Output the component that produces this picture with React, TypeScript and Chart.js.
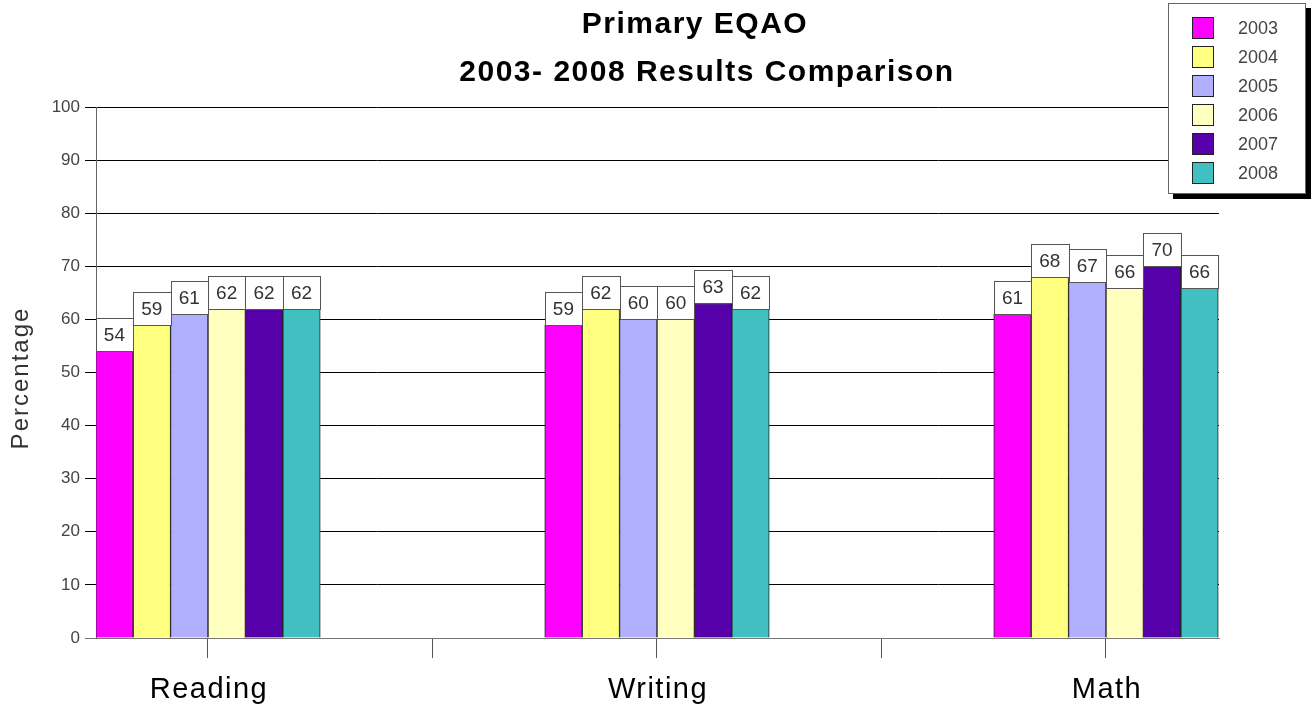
import React, { useEffect, useRef } from "react";
import { Chart, registerables } from "chart.js";

Chart.register(...registerables);

const categories = ["Reading", "Writing", "Math"];
const years = ["2003", "2004", "2005", "2006", "2007", "2008"];
const values2003 = [54, 59, 61];
const values2004 = [59, 62, 68];
const values2005 = [61, 60, 67];
const values2006 = [62, 60, 66];
const values2007 = [62, 63, 70];
const values2008 = [62, 62, 66];
const seriesValues = [values2003, values2004, values2005, values2006, values2007, values2008];
const colors = ["#FF00FF", "#FFFF80", "#B0B0FF", "#FFFFC0", "#5500A8", "#40C0C0"];
const yTicks = [0, 10, 20, 30, 40, 50, 60, 70, 80, 90, 100];
const titleLines = ["Primary EQAO", "2003- 2008 Results Comparison"];
const yTitle = "Percentage";

const FONT = "'Liberation Sans', Arial, sans-serif";

const overlayPlugin = {
  id: "overlay",
  afterDatasetsDraw(chart: any) {
    const ctx = chart.ctx as CanvasRenderingContext2D;
    ctx.save();
    chart.data.datasets.forEach((ds: any, di: number) => {
      const meta = chart.getDatasetMeta(di);
      meta.data.forEach((bar: any, i: number) => {
        const w = bar.width;
        const x0 = Math.round(bar.x - w / 2) + 0.5;
        const x1 = Math.round(bar.x + w / 2) + 0.5;
        const yb = Math.round(bar.y) + 0.5;
        const h = 33;
        ctx.fillStyle = "#ffffff";
        ctx.fillRect(x0, yb - h, x1 - x0, h);
        ctx.strokeStyle = "#555";
        ctx.lineWidth = 1;
        ctx.strokeRect(x0, yb - h, x1 - x0, h);
        ctx.fillStyle = "#333";
        ctx.font = `19px ${FONT}`;
        ctx.textAlign = "center";
        ctx.textBaseline = "middle";
        ctx.fillText(String(ds.data[i].y), bar.x, yb - h / 2 + 1);
      });
    });
    ctx.restore();
  },
  afterDraw(chart: any) {
    const ctx = chart.ctx as CanvasRenderingContext2D;
    ctx.save();
    // Titles
    ctx.fillStyle = "#000";
    ctx.textAlign = "center";
    ctx.textBaseline = "middle";
    ctx.font = `bold 30px ${FONT}`;
    (ctx as any).letterSpacing = "1.5px";
    ctx.fillText(titleLines[0], 695, 25);
    ctx.fillText(titleLines[1], 707, 73);
    // X category labels
    const xs = chart.scales.x;
    ctx.font = `29px ${FONT}`;
    (ctx as any).letterSpacing = "1.5px";
    categories.forEach((c, i) => {
      ctx.fillText(c, xs.getPixelForValue(i) + 1, 690);
    });
    // Y title
    ctx.save();
    ctx.translate(21, 378);
    ctx.rotate(-Math.PI / 2);
    ctx.font = `24px ${FONT}`;
    (ctx as any).letterSpacing = "2px";
    ctx.fillStyle = "#333";
    ctx.fillText(yTitle, 0, 0);
    ctx.restore();
    (ctx as any).letterSpacing = "0px";
    // Legend
    const lx = 1168, ly = 3, lw = 138, lh = 191;
    ctx.fillStyle = "#000";
    ctx.fillRect(lx + 5, ly + 5, lw, lh);
    ctx.fillStyle = "#fff";
    ctx.fillRect(lx, ly, lw, lh);
    ctx.strokeStyle = "#666";
    ctx.lineWidth = 1;
    ctx.strokeRect(lx + 0.5, ly + 0.5, lw - 1, lh - 1);
    years.forEach((y, i) => {
      const sy = 17 + i * 29;
      ctx.fillStyle = colors[i];
      ctx.fillRect(1192, sy, 22, 22);
      ctx.strokeStyle = "#222";
      ctx.strokeRect(1192.5, sy + 0.5, 21, 21);
      ctx.fillStyle = "#444";
      ctx.font = `18px ${FONT}`;
      ctx.textAlign = "left";
      ctx.textBaseline = "middle";
      ctx.fillText(y, 1238, sy + 12);
    });
    ctx.restore();
  },
};

export default function App() {
  const ref = useRef<HTMLCanvasElement | null>(null);
  useEffect(() => {
    if (!ref.current) return;
    const chart = new Chart(ref.current, {
      type: "bar",
      data: {
        datasets: years.map((y, i) => ({
          label: y,
          data: seriesValues[i].map((v, ci) => ({ x: ci, y: v })),
          backgroundColor: colors[i],
          borderColor: "#222",
          borderWidth: 1,
          categoryPercentage: 1,
          barPercentage: 1,
        })),
      },
      options: {
        animation: false,
        responsive: false,
        devicePixelRatio: 1,
        layout: { padding: { top: 107, right: 93, left: 0, bottom: 0 } },
        plugins: {
          legend: { display: false },
          title: { display: false },
          tooltip: { enabled: false },
        },
        scales: {
          x: {
            type: "linear",
            offset: false,
            min: -0.2494,
            max: 2.2517,
            afterBuildTicks: (scale: any) => {
              scale.ticks = [0, 0.5, 1, 1.5, 2].map((v) => ({ value: v }));
            },
            afterFit: (scale: any) => {
              scale.height = 70;
            },
            ticks: { display: false },
            grid: {
              display: true,
              offset: false,
              drawOnChartArea: false,
              drawTicks: true,
              tickLength: 20,
              color: "#555",
              tickColor: "#555",
            },
            border: { display: true, color: "#777" },
          },
          y: {
            min: 0,
            max: 100,
            afterBuildTicks: (scale: any) => {
              scale.ticks = yTicks.map((v) => ({ value: v }));
            },
            afterFit: (scale: any) => {
              scale.width = 96;
            },
            ticks: {
              color: "#444",
              font: { family: FONT, size: 17 },
              padding: 5,
            },
            grid: {
              color: (c: any) => (c.tick && c.tick.value === 0 ? "#777" : "#000"),
              tickColor: (c: any) => (c.tick && c.tick.value === 0 ? "#777" : "#000"),
              tickLength: 11,
              lineWidth: 1,
            },
            border: { display: true, color: "#666" },
          },
        },
      },
      plugins: [overlayPlugin],
    } as any);
    return () => chart.destroy();
  }, []);
  return (
    <div style={{ position: "absolute", left: 0, top: 0, width: 1312, height: 708, background: "#fff" }}>
      <canvas ref={ref} width={1312} height={708} style={{ width: 1312, height: 708, display: "block" }} />
    </div>
  );
}
